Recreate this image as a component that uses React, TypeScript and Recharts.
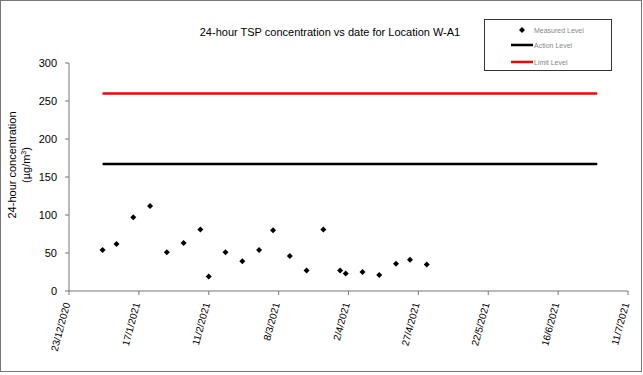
import React from 'react';
import { ComposedChart, Scatter, Line, XAxis, YAxis } from 'recharts';

const tickDates = [
  '23/12/2020', '17/1/2021', '11/2/2021', '8/3/2021', '2/4/2021',
  '27/4/2021', '22/5/2021', '16/6/2021', '11/7/2021',
];
const sampleDates = [
  '4/1/2021', '9/1/2021', '15/1/2021', '21/1/2021', '27/1/2021', '2/2/2021',
  '8/2/2021', '11/2/2021', '17/2/2021', '23/2/2021', '1/3/2021', '6/3/2021',
  '12/3/2021', '18/3/2021', '24/3/2021', '30/3/2021', '1/4/2021', '7/4/2021',
  '13/4/2021', '19/4/2021', '24/4/2021', '30/4/2021',
];
const measuredValues = [
  54, 62, 97, 112, 51, 63, 81, 19, 51, 39, 54, 80,
  46, 27, 81, 27, 23, 25, 21, 36, 41, 35,
];
const levelPeriod = ['4/1/2021', '30/6/2021'];
const actionLevel = 167;
const limitLevel = 260;
const yTicks = [0, 50, 100, 150, 200, 250, 300];
const legendLabels = ['Measured Level', 'Action Level', 'Limit Level'];

const parse = (s: string) => {
  const [d, m, y] = s.split('/').map(Number);
  return Date.UTC(y, m - 1, d);
};
const origin = parse(tickDates[0]);
const toDay = (s: string) => Math.round((parse(s) - origin) / 86400000);

const xTicks = tickDates.map(toDay);
const measured = sampleDates.map((d, i) => ({ x: toDay(d), y: measuredValues[i] }));
const actionData = levelPeriod.map((d) => ({ x: toDay(d), y: actionLevel }));
const limitData = levelPeriod.map((d) => ({ x: toDay(d), y: limitLevel }));

const FONT = '"Liberation Sans", Arial, sans-serif';

const Diamond = (props: any) => {
  const { cx, cy } = props;
  const r = 3;
  return <path d={`M${cx},${cy - r}L${cx + r},${cy}L${cx},${cy + r}L${cx - r},${cy}Z`} fill="#000" />;
};

const XTick = (props: any) => {
  const { x, y, payload } = props;
  const idx = xTicks.indexOf(payload.value);
  return (
    <g transform={`translate(${x},${y})`}>
      <text
        transform="rotate(-75)"
        x={-6}
        y={3}
        textAnchor="end"
        fontSize={10}
        fontFamily={FONT}
        fill="#000"
      >
        {idx >= 0 ? tickDates[idx] : ''}
      </text>
    </g>
  );
};

const YLabel = (props: any) => {
  const vb = props.viewBox || { y: 63, height: 228 };
  const cy = vb.y + vb.height / 2 - 12;
  return (
    <g>
      <text transform={`translate(16,${cy}) rotate(-90)`} textAnchor="middle" fontSize={11} fontFamily={FONT} fill="#000">
        24-hour concentration
      </text>
      <text transform={`translate(30,${cy}) rotate(-90)`} textAnchor="middle" fontSize={11} fontFamily={FONT} fill="#000">
        (µg/m<tspan fontSize={7} dy={-4}>3</tspan><tspan dy={4}>)</tspan>
      </text>
    </g>
  );
};

const LegendBox = () => (
  <div
    style={{
      position: 'absolute',
      left: 484,
      top: 19,
      width: 128,
      height: 52,
      boxSizing: 'border-box',
      border: '1px solid #333',
      background: '#fff',
    }}
  >
    <svg width={126} height={50} style={{ position: 'absolute', left: 0, top: 0 }}>
      <path d="M37,7L40,10L37,13L34,10Z" fill="#000" />
      <line x1={26} x2={48} y1={25} y2={25} stroke="#000" strokeWidth={2.5} />
      <line x1={26} x2={48} y1={42} y2={42} stroke="#ff0000" strokeWidth={2.5} />
      <text x={49} y={12.5} fontSize={7} fill="#888" fontFamily={FONT}>{legendLabels[0]}</text>
      <text x={49} y={27.5} fontSize={7} fill="#888" fontFamily={FONT}>{legendLabels[1]}</text>
      <text x={49} y={44.5} fontSize={7} fill="#888" fontFamily={FONT}>{legendLabels[2]}</text>
    </svg>
  </div>
);

export default function App() {
  return (
    <div
      style={{
        position: 'absolute',
        left: 0,
        top: 0,
        width: 643,
        height: 375,
        background: '#fff',
      }}
    >
      <div
        style={{
          position: 'absolute',
          left: 0,
          top: 0,
          width: 642,
          height: 372,
          boxSizing: 'border-box',
          border: '1px solid #777',
        }}
      />
      <div
        style={{
          position: 'absolute',
          left: 130,
          top: 26,
          width: 400,
          textAlign: 'center',
          fontFamily: FONT,
          fontSize: 11,
          color: '#000',
          whiteSpace: 'nowrap',
        }}
      >
        24-hour TSP concentration vs date for Location W-A1
      </div>
      <ComposedChart
        width={643}
        height={375}
        margin={{ top: 63, right: 15, left: 0, bottom: 0 }}
        style={{ position: 'absolute', left: 0, top: 0 }}
      >
        <XAxis
          dataKey="x"
          type="number"
          domain={[xTicks[0], xTicks[xTicks.length - 1]]}
          ticks={xTicks}
          interval={0}
          height={84}
          tick={<XTick />}
          tickSize={4}
          axisLine={{ stroke: '#777' }}
          tickLine={{ stroke: '#777' }}
          allowDataOverflow
        />
        <YAxis
          type="number"
          domain={[0, 300]}
          ticks={yTicks}
          interval={0}
          width={69}
          tickSize={4}
          tickMargin={8}
          axisLine={{ stroke: '#777' }}
          tickLine={{ stroke: '#777' }}
          tick={{ fontSize: 11, fontFamily: FONT, fill: '#000' }}
          label={<YLabel />}
        />
        <Line
          data={limitData}
          dataKey="y"
          stroke="#ff0000"
          strokeWidth={2.5}
          dot={false}
          activeDot={false}
          isAnimationActive={false}
        />
        <Line
          data={actionData}
          dataKey="y"
          stroke="#000"
          strokeWidth={2.5}
          dot={false}
          activeDot={false}
          isAnimationActive={false}
        />
        <Scatter data={measured} dataKey="y" shape={<Diamond />} isAnimationActive={false} />
      </ComposedChart>
      <LegendBox />
    </div>
  );
}
